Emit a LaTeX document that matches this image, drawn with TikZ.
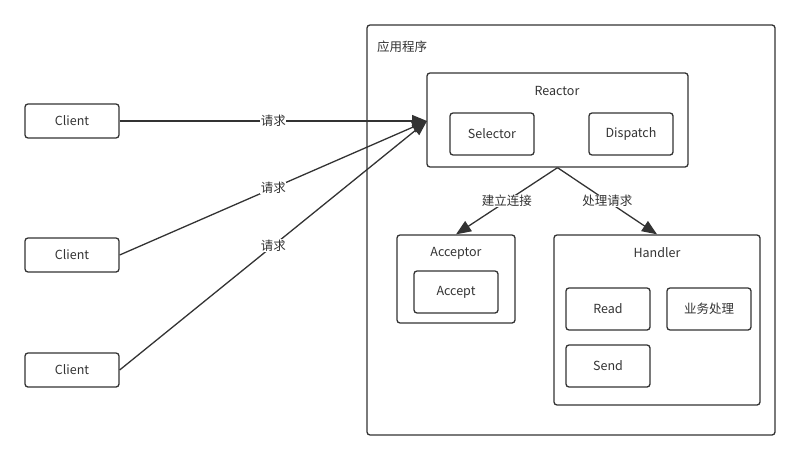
\documentclass[tikz,border=0pt]{standalone}
\usepackage{fontspec}
\setmainfont{Noto Sans CJK SC}
\usepackage{tikz}
\usetikzlibrary{arrows.meta}
\definecolor{linegray}{HTML}{333333}

\begin{document}
\begin{tikzpicture}[
x=1pt,y=-1pt,
mybox/.style={
  draw=linegray,
  line width=1.3pt,
  rounded corners=3pt,
  inner sep=0pt
  },
smallbox/.style={
  mybox,
  minimum width=84pt,
  minimum height=42pt,
  text=linegray
  },
boxtitle/.style={text=linegray,inner sep=1pt},
myarrow/.style={
  draw=linegray,
  line width=1.3pt,
  -{Triangle[length=15pt,width=12pt]}
  },
edgelabel/.style={fill=white,text=linegray,inner sep=0.5pt},
font=\fontsize{12.5}{14}\selectfont
]
\useasboundingbox (0,0) rectangle (800,460);
% containers
\node[mybox,minimum width=408pt,minimum height=410pt] (app) at (571,230) {};
\node[boxtitle,anchor=west] (apptitle) at (376,47) {应用程序};
\node[mybox,minimum width=261pt,minimum height=94pt] (reactor) at (557.5,120) {};
\node[boxtitle] (reactortitle) at (557,91) {Reactor};
\node[mybox,minimum width=118pt,minimum height=88pt] (acceptor) at (456,279) {};
\node[boxtitle] (acceptortitle) at (456,253) {Acceptor};
\node[mybox,minimum width=206pt,minimum height=170pt] (handler) at (657,320) {};
\node[boxtitle] (handlertitle) at (657,253) {Handler};
% inner boxes
\node[smallbox] (selector) at (492,134) {Selector};
\node[smallbox] (dispatch) at (631,134) {Dispatch};
\node[smallbox] (accept) at (456,292) {Accept};
\node[smallbox] (read) at (608,309) {Read};
\node[smallbox] (biz) at (709,309) {业务处理};
\node[smallbox] (send) at (608,366) {Send};
% clients
\foreach \Name/\Y in {c1/121,c2/255,c3/370}
  \node[smallbox,minimum width=94pt,minimum height=34pt] (\Name) at (72,\Y) {Client};
\coordinate (hit) at (427,121);
\path
  (c1.east) edge[myarrow] node[edgelabel] {请求} (hit)
  (c2.east) edge[myarrow] node[edgelabel] {请求} (hit)
  (c3.east) edge[myarrow] node[edgelabel] {请求} (hit)
  (reactor.south) edge[myarrow] node[edgelabel] {建立连接} (acceptor.north)
  (reactor.south) edge[myarrow] node[edgelabel] {处理请求} (handler.north);
\end{tikzpicture}
\end{document}
